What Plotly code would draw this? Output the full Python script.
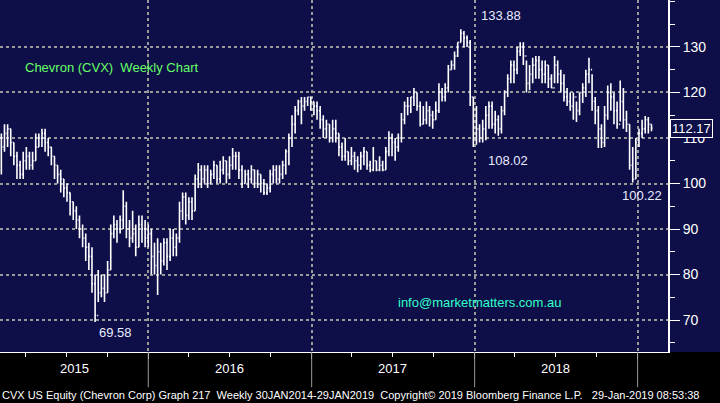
import pandas as pd
import plotly.graph_objects as go

# weekly closes, highs, lows (Feb 2015 - Jan 2019)
closes = [108, 111, 112, 109, 106, 104, 102, 105, 106, 104, 105, 108, 110, 111, 109, 108, 106, 104,
          102, 101, 99, 98, 96, 94, 92, 90, 88, 86, 84, 78, 71, 76, 77, 76, 81, 89,
          91, 90, 92, 95, 90, 88, 89, 86, 91, 90, 88, 89, 84, 82, 85, 83, 87, 84,
          88, 86, 88, 94, 97, 93, 96, 94, 101, 103, 101, 103, 100, 102, 104, 101, 103, 105,
          102, 104, 106, 106, 103, 100, 102, 101, 103, 100, 102, 100, 98, 99, 102, 103, 101, 102,
          104, 107, 110, 113, 116, 118, 117, 118, 119, 118, 117, 116, 114, 112, 113, 110, 112, 111,
          108, 106, 107, 105, 106, 105, 104, 106, 107, 104, 103, 105, 103, 104, 103, 107, 110, 109,
          108, 110, 114, 117, 117, 119, 120, 117, 113, 114, 116, 115, 114, 116, 120, 119, 121, 125,
          126, 128, 131, 133, 132, 131, 119, 110, 112, 110, 112, 115, 117, 113, 114, 112, 116, 120,
          123, 126, 125, 129, 130, 128, 122, 124, 126, 127, 125, 124, 126, 123, 121, 126, 124, 122,
          119, 118, 117, 119, 116, 120, 121, 124, 125, 118, 116, 112, 109, 115, 120, 119, 116, 113,
          118, 114, 113, 104, 101, 109, 111, 112, 114, 113, 112.17]
highs = [111, 113, 113, 112, 109, 107, 105, 107, 108, 107, 107, 111, 111, 112, 112, 110, 108, 106,
         104, 103, 101, 100, 98, 96, 95, 93, 91, 89, 87, 86, 80, 81, 80, 80, 83, 91,
         93, 92, 93, 98.5, 96, 92, 94, 91, 93, 93, 92, 91, 90, 87, 88, 87, 88, 88,
         90, 90, 89, 96, 98, 98, 97, 97, 102, 104.5, 104, 104, 104, 103, 105, 104, 105, 106,
         105, 106, 107.8, 107, 107, 104, 103, 103, 104, 103, 103, 102, 101, 100, 103, 104, 104, 104,
         105, 107.5, 111, 115, 117, 118.4, 119, 119, 119, 119, 118, 118, 117, 115, 114, 113, 114, 114,
         111, 109, 110, 107, 108, 107, 106, 107, 108, 107, 105, 108, 105, 106, 105, 108, 111.5, 111,
         110, 111, 115.5, 118, 119, 119, 121, 120, 118, 117, 118, 117, 116, 118, 122, 121, 122, 126,
         127, 129, 131, 133.88, 133.5, 132.5, 131.5, 119, 117, 113, 114, 117, 118, 118, 116, 115, 117, 120.5,
         124, 127, 127, 130, 131, 131, 127, 126, 127.6, 128, 128, 127, 127, 126, 124, 128, 127, 125,
         124, 121, 120, 120, 118, 120, 122, 125, 127.6, 124, 119, 117, 113, 117, 121.5, 122, 120, 118,
         122.6, 121, 116, 113, 108, 110, 112, 114, 114.8, 114.6, 113]
lows = [102, 107, 108, 106, 104, 101, 101, 101, 103, 103, 103, 105, 108, 108, 107, 106, 104, 101,
        100, 98, 97, 96, 93, 92, 90, 88, 86, 83, 81, 76, 69.58, 74, 75, 74, 76, 81,
        88, 87, 89, 90, 88, 86, 87, 84, 86, 87, 86, 86, 80, 80, 75.5, 80, 82, 81,
        83, 84, 84, 87, 92, 91, 92, 92, 94, 99, 99, 100, 99, 100, 101, 100, 100, 102,
        100, 101, 103, 103, 101, 99, 100, 99, 100, 99, 99, 98, 97.5, 97.5, 98, 100, 100, 100,
        101, 102, 104, 108, 111, 115, 113, 116, 117, 116, 115, 114, 112, 110, 110, 109, 109, 109,
        106, 105, 105, 104, 104, 103, 102.5, 103, 104, 103, 102.5, 102.7, 102.7, 102.7, 102.7, 103, 106, 106,
        105, 107, 109, 113, 115, 115.5, 117, 116, 112.5, 113, 113, 112.5, 112, 114, 115.5, 118, 118, 120,
        125, 125, 127.8, 131, 130, 130, 117, 108.02, 108.5, 109, 109, 109.5, 112, 112, 111, 110.5, 111, 115,
        119, 122, 122, 124, 128, 126, 120, 120.5, 122, 123, 123, 122, 122, 121, 121, 122, 122, 120,
        118, 117, 116, 114, 113.5, 115, 117.7, 119, 122, 116, 113, 107.8, 107.8, 108, 114, 116, 113, 112,
        113.6, 112, 111.3, 103, 100.22, 101, 108, 110, 111, 111, 111.5]
opens = [110] + closes[:-1]
dates = pd.date_range("2015-02-06", periods=len(closes), freq="W-FRI")

years = ["2015", "2016", "2017", "2018"]
year_mid = ["2015-07-20", "2016-07-01", "2017-07-01", "2018-07-01"]
y_ticks = [70, 80, 90, 100, 110, 120, 130]
last_price = 112.17
callouts = [("2018-03-02", 133.88, "133.88", 136.8), ("2018-03-16", 108.02, "108.02", 105.0),
            ("2015-10-20", 69.58, "69.58", 67.2), ("2019-01-10", 100.22, "100.22", 97.3)]

navy = "#0e0e48"
fig = go.Figure(go.Ohlc(x=dates, open=opens, high=highs, low=lows, close=closes,
                        increasing_line_color="white", decreasing_line_color="white",
                        line_width=1.6, tickwidth=0.35, showlegend=False, hoverinfo="skip"))

fig.update_layout(
    width=720, height=403, margin=dict(l=0, r=52, t=0, b=51, autoexpand=False),
    paper_bgcolor=navy, plot_bgcolor=navy,
    font=dict(family="Liberation Sans, Arial", color="white"),
    xaxis=dict(range=["2015-02-03", "2019-03-10"], rangeslider_visible=False,
               showticklabels=False, showgrid=True, gridcolor="#9a9a9a", griddash="dot", gridwidth=2,
               tick0="2015-01-01", dtick="M12", ticks="outside", ticklen=6, tickcolor="white",
               minor=dict(dtick="M3", ticks="outside", ticklen=4, tickcolor="white"),
               showline=True, linecolor="white", zeroline=False),
    yaxis=dict(side="right", range=[63, 140.3], tickvals=y_ticks, showgrid=True,
               gridcolor="#9a9a9a", griddash="dot", gridwidth=2, ticks="outside", ticklen=10,
               tickcolor="white", tickfont=dict(size=14, color="white"),
               minor=dict(dtick=5, ticks="outside", ticklen=5, tickcolor="white"),
               showline=True, linecolor="white", linewidth=2, zeroline=False),
)

# black band under the plot with year dividers
fig.add_shape(type="rect", xref="paper", yref="paper", x0=-0.01, x1=1.1, y0=-0.2, y1=0,
              fillcolor="black", line_width=0, layer="below")
for d in ["2016-01-01", "2017-01-01", "2018-01-01", "2019-01-01"]:
    fig.add_shape(type="line", xref="x", yref="paper", x0=d, x1=d, y0=0, y1=-0.1,
                  line=dict(color="#9a9a9a", width=1))
for lab, m in zip(years, year_mid):
    fig.add_annotation(x=m, y=-0.075, xref="x", yref="paper", text=lab, showarrow=False,
                       font=dict(size=13, color="white"))
fig.add_annotation(x=0.0, y=-0.122, xref="paper", yref="paper", xanchor="left", yanchor="middle",
                   text="CVX US Equity (Chevron Corp) Graph 217  Weekly 30JAN2014-29JAN2019  "
                        "Copyright\u00a9 2019 Bloomberg Finance L.P.   29-Jan-2019 08:53:38",
                   showarrow=False, font=dict(family="Liberation Sans Narrow, Arial", size=11, color="white"))

for d, v, t, ty in callouts:
    fig.add_annotation(x=d, y=ty, text=t, showarrow=False, font=dict(size=13, color="#e8ecff"))

fig.add_annotation(x=0.035, y=0.835, xref="paper", yref="paper", xanchor="left",
                   text="Chevron (CVX)  Weekly Chart", showarrow=False,
                   font=dict(size=13, color="#66ff66"))
fig.add_annotation(x=0.718, y=0.115, xref="paper", yref="paper", xanchor="center",
                   text="info@marketmatters.com.au", showarrow=False,
                   font=dict(size=13, color="#33ffcc"))
fig.add_annotation(x=1.0, y=last_price, xref="paper", yref="y", xanchor="left", xshift=2,
                   text=str(last_price), showarrow=False, bgcolor=navy, bordercolor="white",
                   borderwidth=1, borderpad=1, font=dict(size=13, color="white"))

fig.write_html("out.html", config={"displayModeBar": False},
               post_script="document.body.style.margin='0';")
